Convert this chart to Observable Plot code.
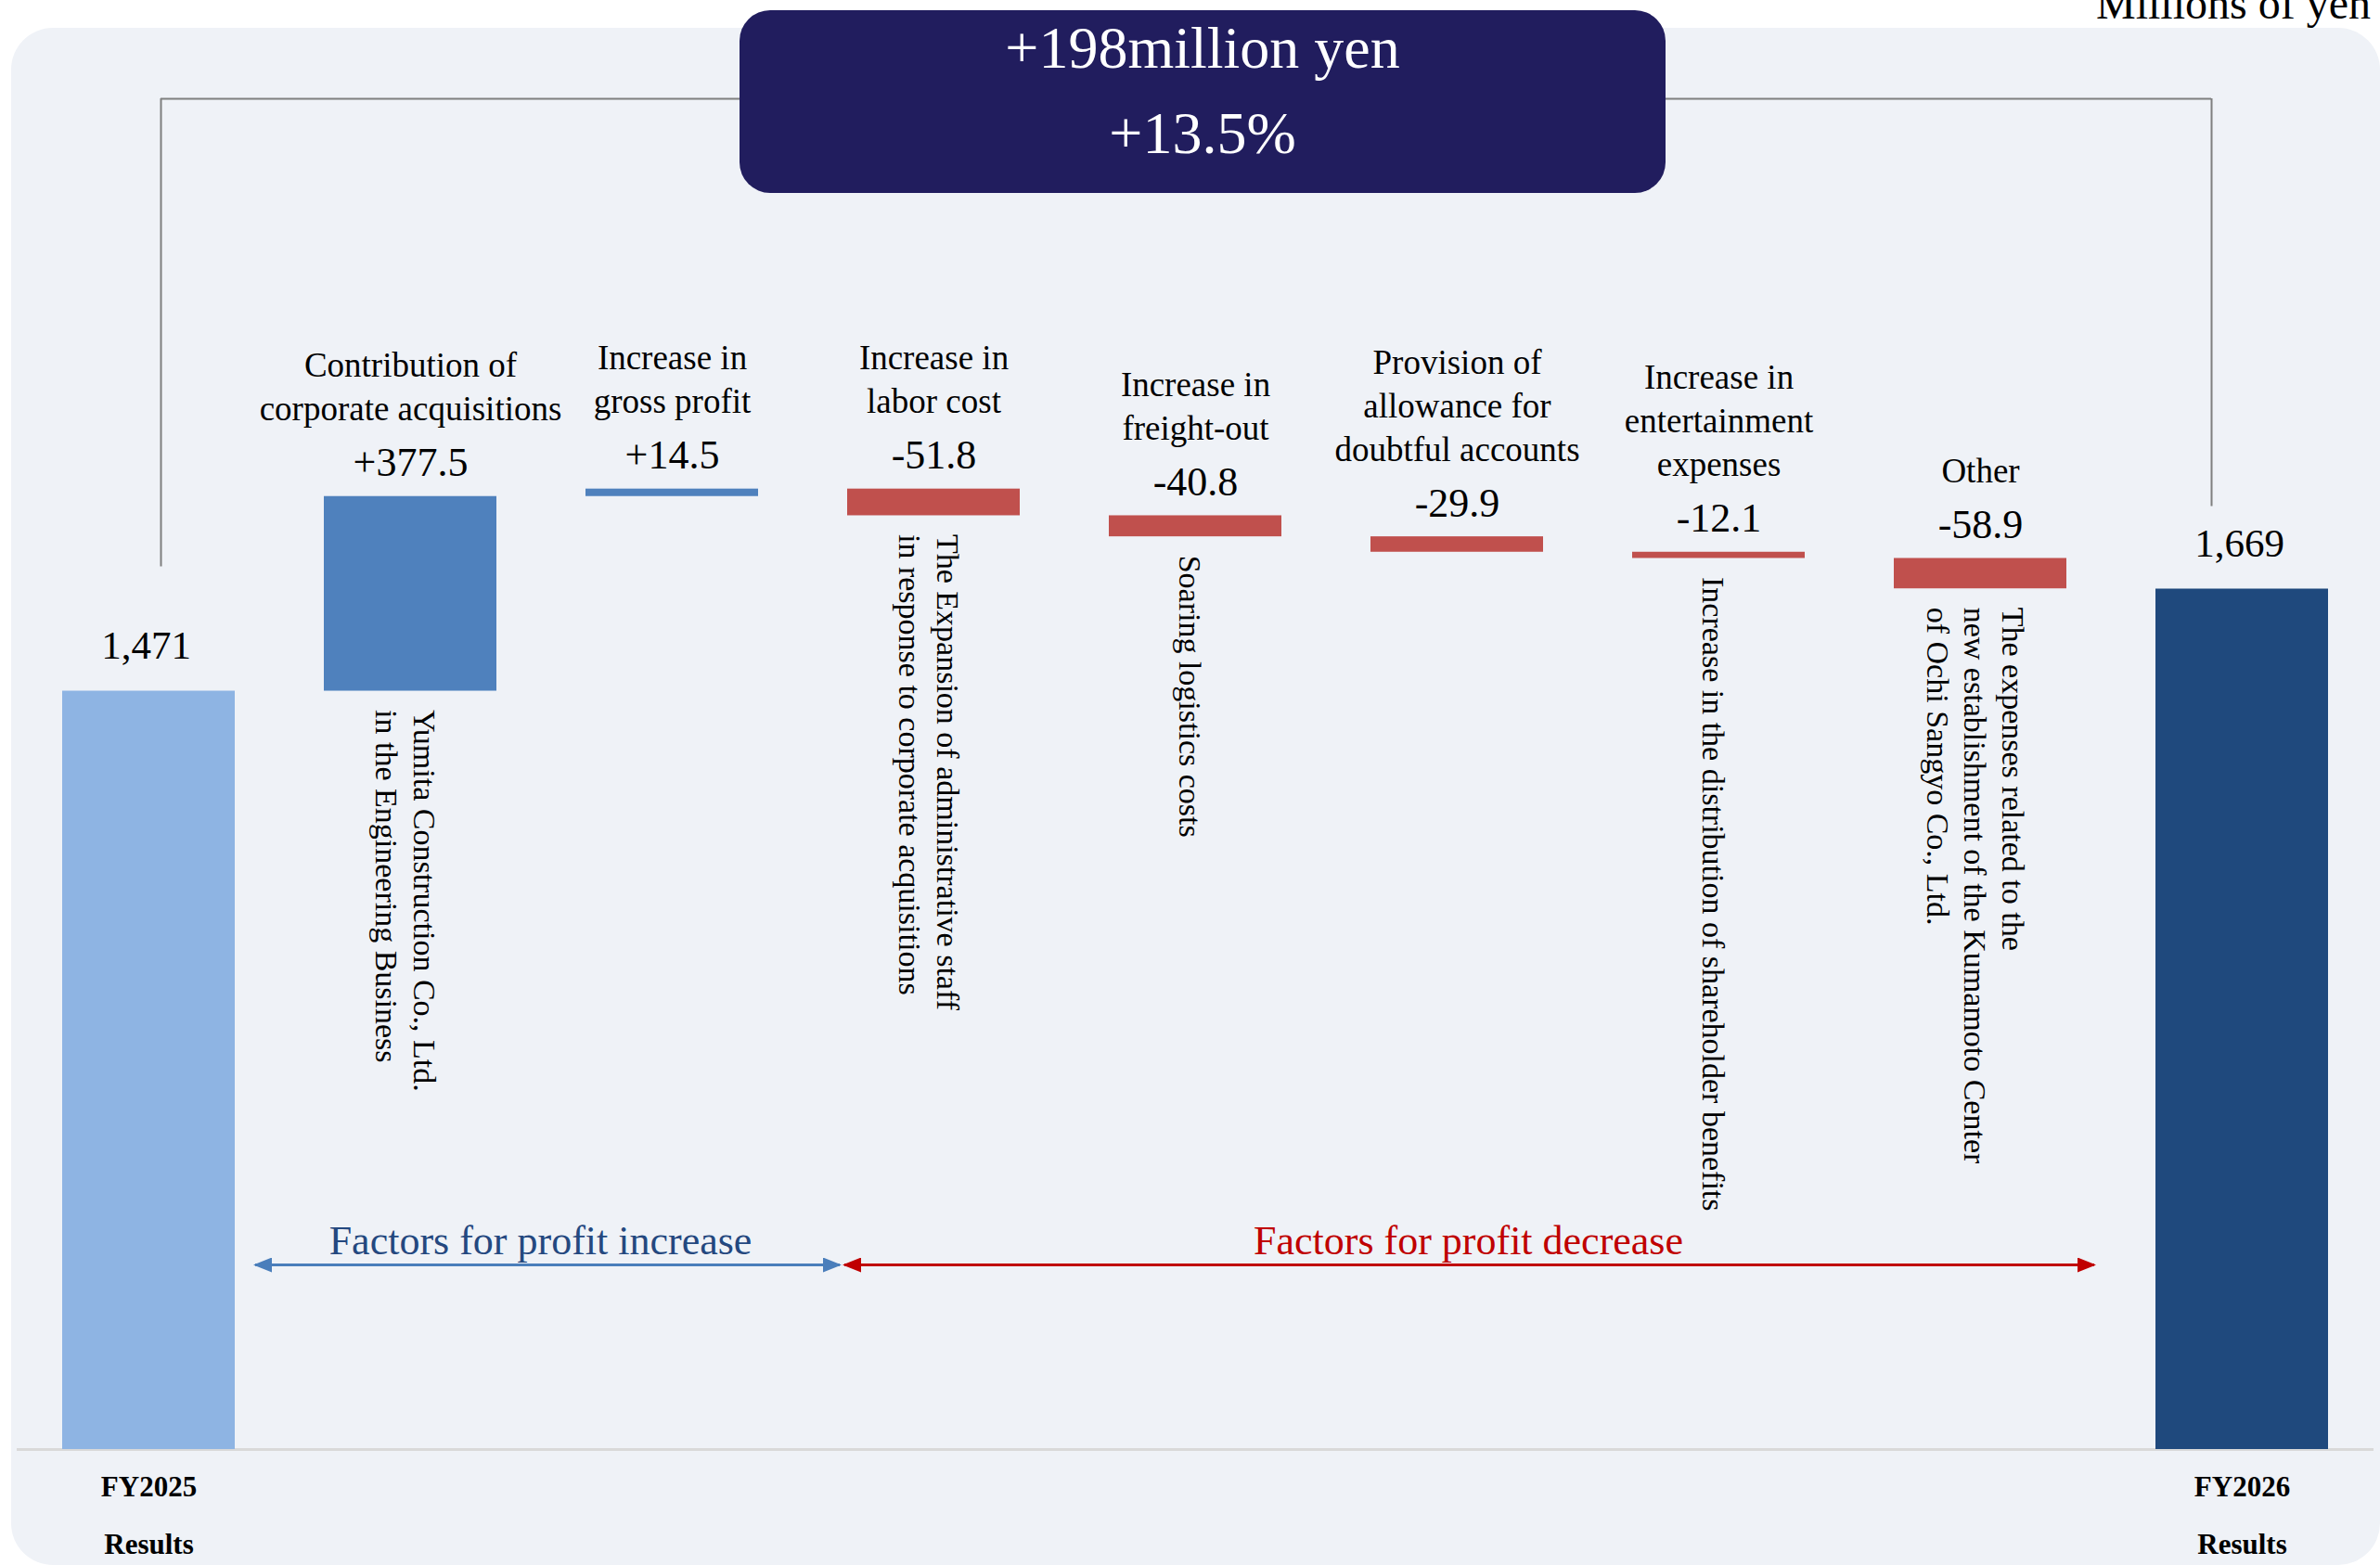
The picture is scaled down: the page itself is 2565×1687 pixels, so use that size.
<!DOCTYPE html>
<html>
<head>
<meta charset="utf-8">
<script src="https://cdn.jsdelivr.net/npm/d3@7"></script>
<script src="https://cdn.jsdelivr.net/npm/@observablehq/plot@0.6"></script>
<style>
  html, body { margin: 0; padding: 0; background: #ffffff; }
  #wrap { position: relative; width: 2565px; height: 1687px; overflow: hidden;
          font-family: "Liberation Serif", "Times New Roman", serif; }
  #panel { position: absolute; left: 12px; top: 30px; width: 2553px; height: 1657px;
           border-radius: 45px; background: #EFF2F7; }
  #chart { position: absolute; left: 0; top: 0; }
  #unit { position: absolute; right: 10px; top: -20px; font-size: 48px; line-height: 48px;
          color: #000; white-space: nowrap; }
  #headline { position: absolute; left: 797px; top: 11px; width: 998px; height: 197px;
              border-radius: 33px; background: #211D5E; color: #ffffff; text-align: center;
              font-size: 64px; line-height: 92px; box-sizing: border-box; }
  #headline div { position: relative; top: -5px; }
</style>
</head>
<body>
<div id="wrap">
  <div id="panel"></div>
  <div id="chart"></div>
  <div id="headline"></div>
  <div id="unit"></div>
</div>
<script>
// ---------------- data ----------------
const startLabel = "FY2025";
const endLabel = "FY2026";
const periodSuffix = "Results";
const startValue = 1471;
const endValue = 1669;
const factorNames = [
  "Contribution of\ncorporate acquisitions",
  "Increase in\ngross profit",
  "Increase in\nlabor cost",
  "Increase in\nfreight-out",
  "Provision of\nallowance for\ndoubtful accounts",
  "Increase in\nentertainment\nexpenses",
  "Other"
];
const factorValues = [377.5, 14.5, -51.8, -40.8, -29.9, -12.1, -58.9];
const factorNotes = [
  "Yumita Construction Co., Ltd.\nin the Engineering Business",
  "",
  "The Expansion of administrative staff\nin response to corporate acquisitions",
  "Soaring logistics costs",
  "",
  "Increase in the distribution of shareholder benefits",
  "The expenses related to the\nnew establishment of the Kumamoto Center\nof Ochi Sangyo Co., Ltd."
];
const groupLabels = ["Factors for profit increase", "Factors for profit decrease"];
const unitLabel = "Millions of yen";

// ---------------- derived table ----------------
const fmtDelta = v => (v >= 0 ? "+" : "-") + Math.abs(v).toFixed(1);
const fmtTotal = d3.format(",");
const barColors = {start: "#8EB4E3", up: "#4F81BD", down: "#C0504D", end: "#1F497D"};

const rows = [];
rows.push({key: startLabel, kind: "start", lo: 0, hi: startValue, label: fmtTotal(startValue)});
let cum = startValue;
factorNames.forEach((name, i) => {
  const v = factorValues[i];
  const a = cum, b = cum + v;
  cum = b;
  rows.push({key: name, kind: v >= 0 ? "up" : "down", lo: Math.min(a, b), hi: Math.max(a, b),
             name, label: fmtDelta(v), note: factorNotes[i]});
});
rows.push({key: endLabel, kind: "end", lo: 0, hi: endValue, label: fmtTotal(endValue)});

const totals = rows.filter(d => d.kind === "start" || d.kind === "end");
const factors = rows.filter(d => d.kind === "up" || d.kind === "down");
const noted = factors.filter(d => d.note);

const yTop = 2620; // top of value axis (bracket level)

const diff = endValue - startValue;
document.getElementById("headline").innerHTML =
  `<div>+${diff}million yen</div><div>+${(100 * diff / startValue).toFixed(1)}%</div>`;
document.getElementById("unit").textContent = unitLabel;

// filled triangle marker
function filledHead(color) {
  const ns = "http://www.w3.org/2000/svg";
  const m = document.createElementNS(ns, "marker");
  m.setAttribute("viewBox", "-10 -8 20 16");
  m.setAttribute("markerWidth", 20);
  m.setAttribute("markerHeight", 16);
  m.setAttribute("markerUnits", "userSpaceOnUse");
  m.setAttribute("refX", 8);
  m.setAttribute("refY", 0);
  m.setAttribute("orient", "auto-start-reverse");
  const p = document.createElementNS(ns, "path");
  p.setAttribute("d", "M-10,-8L10,0L-10,8Z");
  p.setAttribute("fill", color);
  p.setAttribute("stroke", "none");
  m.appendChild(p);
  return m;
}

const incSpan = [{from: factorNames[0], to: factorNames[1], y: 0}];
const decSpan = [{from: factorNames[2], to: factorNames[6], y: 0}];
const incText = [{at: factorNames[0], y: 0, label: groupLabels[0]}];
const decText = [{at: factorNames[4], y: 0, label: groupLabels[1]}];
const bracket = [{a: startLabel, b: endLabel, y: yTop}];

const chart = Plot.plot({
  width: 2565,
  height: 1687,
  marginTop: 106,
  marginBottom: 125,
  marginLeft: 18,
  marginRight: 7,
  style: {background: "transparent", fontFamily: '"Liberation Serif", "Times New Roman", serif', overflow: "visible", color: "#000"},
  x: {domain: rows.map(d => d.key), range: [-29, 2606], padding: 0.34, axis: null, label: null},
  y: {domain: [0, yTop], axis: null},
  color: {type: "identity"},
  marks: [
    Plot.ruleY([0], {stroke: "#D9D9D9", strokeWidth: 3}),
    Plot.barY(rows, {x: "key", y1: "lo", y2: "hi", fill: d => barColors[d.kind]}),
    // bracket
    Plot.ruleY(bracket, {x1: "a", x2: "b", y: "y", insetLeft: 106, insetRight: 126, stroke: "#7F7F7F", strokeWidth: 2}),
    Plot.ruleX(totals.slice(0, 1), {x: "key", y1: () => yTop, y2: "hi", dx: 13, insetBottom: 134, stroke: "#7F7F7F", strokeWidth: 2}),
    Plot.ruleX(totals.slice(1), {x: "key", y1: () => yTop, y2: "hi", dx: -33, insetBottom: 89, stroke: "#7F7F7F", strokeWidth: 2}),
    // totals labels
    Plot.text(totals, {x: "key", y: "hi", text: "label", lineAnchor: "bottom", dy: -35, dx: -3, fontSize: 43}),
    // factor values & names
    Plot.text(factors, {x: "key", y: "hi", text: "label", lineAnchor: "bottom", dy: -22, fontSize: 44}),
    Plot.text(factors, {x: "key", y: "hi", text: "name", lineAnchor: "bottom", dy: -82, fontSize: 37, lineHeight: 1.27}),
    // vertical notes
    Plot.text(noted, {x: "key", y: "lo", text: "note", rotate: 90, textAnchor: "start", lineAnchor: "middle",
                      dy: 20, dx: -4, fontSize: 34, lineHeight: 1.2}),
    // factor group arrows
    Plot.ruleY(incSpan, {x1: "from", x2: "to", y: "y", dy: -199, insetLeft: -74, insetRight: -88,
                         stroke: "#4A7EBB", strokeWidth: 3, markerStart: filledHead, markerEnd: filledHead}),
    Plot.ruleY(decSpan, {x1: "from", x2: "to", y: "y", dy: -199, insetLeft: -3, insetRight: -30,
                         stroke: "#C00000", strokeWidth: 3, markerStart: filledHead, markerEnd: filledHead}),
    Plot.text(incText, {x: "at", y: "y", text: "label", lineAnchor: "bottom", dy: -211, dx: 140, fontSize: 44, fill: "#24487F"}),
    Plot.text(decText, {x: "at", y: "y", text: "label", lineAnchor: "bottom", dy: -211, dx: 12, fontSize: 44, fill: "#C00000"}),
    // x axis labels for the result bars
    Plot.axisX({ticks: [startLabel, endLabel], tickFormat: d => `${d}\n${periodSuffix}`, tickSize: 0, tickPadding: 6,
                fontSize: 31, fontWeight: "bold", lineHeight: 2, label: null})
  ]
});
document.getElementById("chart").appendChild(chart);
</script>
</body>
</html>
